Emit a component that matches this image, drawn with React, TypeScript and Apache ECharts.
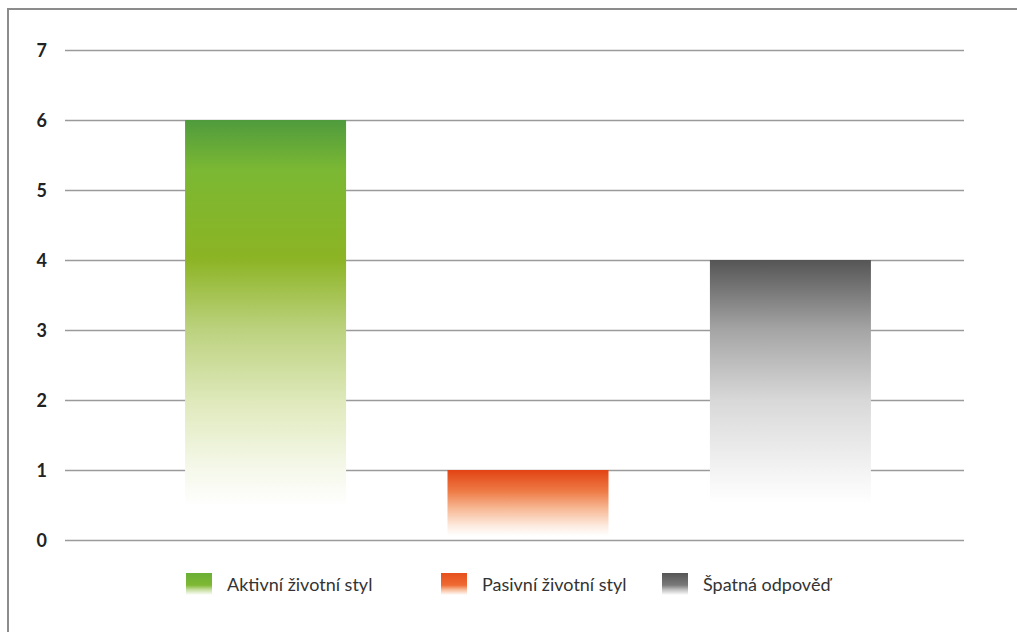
import React, { useEffect, useRef } from "react";
import * as echarts from "echarts";

const categories = ["Odpověď"];
const seriesNames = ["Aktivní životní styl", "Pasivní životní styl", "Špatná odpověď"];
const seriesValues = [6, 1, 4];
const yTicks = [0, 1, 2, 3, 4, 5, 6, 7];

const barStops: [number, string][][] = [
  [
    [0, "#4f9b3d"],
    [0.12, "#7bb833"],
    [0.33, "#8cb424"],
    [0.5, "#bcd27f"],
    [0.67, "#dfe9bb"],
    [0.83, "#f5f8ea"],
    [0.92, "#ffffff"],
    [0.93, "rgba(255,255,255,0)"],
    [1, "rgba(255,255,255,0)"],
  ],
  [
    [0, "#e24314"],
    [0.3, "#ee7a45"],
    [0.55, "#f7b894"],
    [0.8, "#fdebe0"],
    [0.94, "#ffffff"],
    [0.95, "rgba(255,255,255,0)"],
    [1, "rgba(255,255,255,0)"],
  ],
  [
    [0, "#555555"],
    [0.25, "#a5a5a5"],
    [0.5, "#d8d8d8"],
    [0.75, "#f3f3f3"],
    [0.87, "#ffffff"],
    [0.88, "rgba(255,255,255,0)"],
    [1, "rgba(255,255,255,0)"],
  ],
];

const legendStops: [number, string][][] = [
  [
    [0, "#6aaf37"],
    [0.55, "#7fb833"],
    [0.75, "#c3dc9a"],
    [1, "#ffffff"],
  ],
  [
    [0, "#e6501c"],
    [0.55, "#ef6a33"],
    [0.75, "#f8b894"],
    [1, "#ffffff"],
  ],
  [
    [0, "#555555"],
    [0.55, "#7a7a7a"],
    [0.75, "#bdbdbd"],
    [1, "#ffffff"],
  ],
];

const legendLefts = [186, 441, 662];

const grad = (stops: [number, string][]) =>
  new echarts.graphic.LinearGradient(
    0,
    0,
    0,
    1,
    stops.map(([offset, color]) => ({ offset, color }))
  );

export default function App() {
  const ref = useRef<HTMLDivElement>(null);
  useEffect(() => {
    if (!ref.current) return;
    const chart = echarts.init(ref.current, null, { renderer: "svg" });
    const font = "Lato, 'Open Sans', sans-serif";
    chart.setOption({
      animation: false,
      backgroundColor: "#ffffff",
      graphic: [
        {
          type: "rect",
          shape: { x: 8, y: 9, width: 1100, height: 700 },
          style: { fill: "none", stroke: "#8c8c8c", lineWidth: 2 },
          z: 0,
        },
      ],
      grid: [
        { left: 65, top: 50, width: 899, height: 490 },
        { left: 65, top: 50, width: 926, height: 490 },
      ],
      xAxis: [
        {
          type: "category",
          gridIndex: 0,
          data: categories,
          show: false,
        },
        {
          type: "category",
          gridIndex: 1,
          data: categories,
          show: false,
        },
      ],
      yAxis: [
        {
          type: "value",
          gridIndex: 0,
          min: yTicks[0],
          max: yTicks[yTicks.length - 1],
          interval: 1,
          axisLine: { show: false },
          axisTick: { show: false },
          axisLabel: {
            margin: 18,
            fontFamily: font,
            fontWeight: "bold",
            fontSize: 18,
            color: "#222222",
          },
          splitLine: { lineStyle: { color: "#9a9a9a", width: 1.3 } },
        },
        {
          type: "value",
          gridIndex: 1,
          min: yTicks[0],
          max: yTicks[yTicks.length - 1],
          interval: 1,
          show: false,
          splitLine: { show: false },
        },
      ],
      legend: seriesNames.map((name, i) => ({
        left: legendLefts[i],
        top: 573,
        padding: 0,
        icon: "rect",
        itemWidth: 26,
        itemHeight: 22,
        selectedMode: false,
        textStyle: {
          fontFamily: font,
          fontSize: 18,
          color: "#333333",
          padding: [0, 0, 0, 10],
        },
        data: [{ name, itemStyle: { color: grad(legendStops[i]) } }],
      })),
      series: seriesNames.map((name, i) => ({
        name,
        type: "bar",
        xAxisIndex: 1,
        yAxisIndex: 1,
        barWidth: 161,
        barGap: "63%",
        data: [seriesValues[i]],
        itemStyle: { color: grad(barStops[i]) },
      })),
    });
    return () => chart.dispose();
  }, []);
  return (
    <div
      ref={ref}
      style={{ position: "absolute", left: 0, top: 0, width: 1017, height: 632 }}
    />
  );
}
